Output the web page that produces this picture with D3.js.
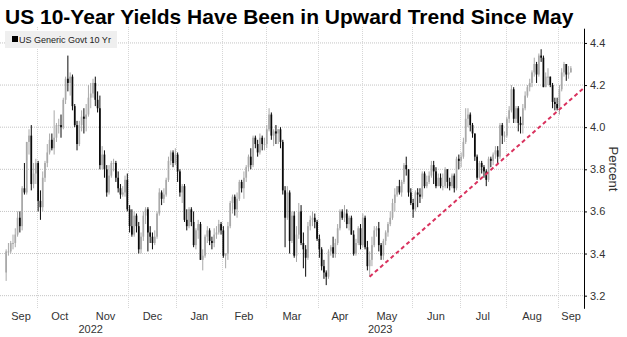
<!DOCTYPE html>
<html>
<head>
<meta charset="utf-8">
<script src="https://cdn.jsdelivr.net/npm/d3@7"></script>
<style>
  body { margin: 0; background: #fff; }
  svg { display: block; font-family: "Liberation Sans", Arial, sans-serif; }
</style>
</head>
<body>
<svg id="chart" width="627" height="337"></svg>
<script>
// daily bars, one row per trading day: [day, open, high, low, close]
const sep2022 = [
  [13, 3.31, 3.42, 3.27, 3.41], [14, 3.41, 3.45, 3.39, 3.41], [15, 3.41, 3.46, 3.40, 3.45],
  [16, 3.45, 3.49, 3.42, 3.45], [19, 3.45, 3.52, 3.43, 3.49], [20, 3.49, 3.60, 3.48, 3.57],
  [21, 3.57, 3.60, 3.50, 3.53], [22, 3.53, 3.72, 3.51, 3.71], [23, 3.71, 3.83, 3.68, 3.69],
  [26, 3.69, 3.93, 3.68, 3.93], [27, 3.93, 3.99, 3.87, 3.96], [28, 3.96, 4.01, 3.70, 3.73],
  [29, 3.73, 3.83, 3.71, 3.78], [30, 3.78, 3.85, 3.73, 3.83]
];
const oct2022 = [
  [3, 3.83, 3.84, 3.60, 3.65], [4, 3.65, 3.70, 3.56, 3.62], [5, 3.62, 3.79, 3.60, 3.76],
  [6, 3.76, 3.84, 3.74, 3.83], [7, 3.83, 3.92, 3.81, 3.88], [11, 3.88, 3.97, 3.87, 3.94],
  [12, 3.94, 3.97, 3.89, 3.90], [13, 3.90, 4.08, 3.87, 3.95], [14, 3.95, 4.02, 3.93, 4.01],
  [17, 4.01, 4.04, 3.97, 4.01], [18, 4.01, 4.06, 3.95, 4.00], [19, 4.00, 4.14, 3.99, 4.13],
  [20, 4.13, 4.24, 4.11, 4.23], [21, 4.23, 4.34, 4.17, 4.21], [24, 4.21, 4.26, 4.15, 4.24],
  [25, 4.24, 4.25, 4.08, 4.10], [26, 4.10, 4.11, 4.00, 4.01], [27, 4.01, 4.03, 3.89, 3.92],
  [28, 3.92, 4.03, 3.91, 4.01], [31, 4.01, 4.08, 3.98, 4.05]
];
const nov2022 = [
  [1, 4.05, 4.09, 3.97, 4.04], [2, 4.04, 4.11, 3.98, 4.06], [3, 4.06, 4.20, 4.05, 4.14],
  [4, 4.14, 4.21, 4.09, 4.16], [7, 4.16, 4.23, 4.14, 4.21], [8, 4.21, 4.24, 4.10, 4.13],
  [9, 4.13, 4.17, 4.07, 4.09], [10, 4.09, 4.15, 3.80, 3.82], [14, 3.82, 3.91, 3.80, 3.87],
  [15, 3.87, 3.89, 3.76, 3.80], [16, 3.80, 3.82, 3.67, 3.69], [17, 3.69, 3.82, 3.68, 3.77],
  [18, 3.77, 3.84, 3.76, 3.83], [21, 3.83, 3.85, 3.79, 3.83], [22, 3.83, 3.84, 3.74, 3.76],
  [23, 3.76, 3.79, 3.69, 3.71], [25, 3.71, 3.73, 3.66, 3.68], [28, 3.68, 3.72, 3.67, 3.69],
  [29, 3.69, 3.77, 3.67, 3.75], [30, 3.75, 3.78, 3.60, 3.61]
];
const dec2022 = [
  [1, 3.61, 3.63, 3.50, 3.53], [2, 3.53, 3.61, 3.48, 3.49], [5, 3.49, 3.60, 3.48, 3.58],
  [6, 3.58, 3.59, 3.50, 3.53], [7, 3.53, 3.55, 3.40, 3.42], [8, 3.42, 3.50, 3.40, 3.48],
  [9, 3.48, 3.60, 3.46, 3.58], [12, 3.58, 3.62, 3.54, 3.61], [13, 3.61, 3.62, 3.41, 3.50],
  [14, 3.50, 3.53, 3.45, 3.48], [15, 3.48, 3.50, 3.42, 3.45], [16, 3.45, 3.51, 3.44, 3.48],
  [19, 3.48, 3.60, 3.47, 3.59], [20, 3.59, 3.71, 3.58, 3.69], [21, 3.69, 3.70, 3.63, 3.66],
  [22, 3.66, 3.71, 3.64, 3.68], [23, 3.68, 3.76, 3.67, 3.75], [27, 3.75, 3.86, 3.74, 3.84],
  [28, 3.84, 3.89, 3.82, 3.88], [29, 3.88, 3.89, 3.81, 3.83], [30, 3.83, 3.90, 3.82, 3.87]
];
const jan2023 = [
  [3, 3.87, 3.88, 3.74, 3.79], [4, 3.79, 3.80, 3.67, 3.69], [5, 3.69, 3.73, 3.64, 3.72],
  [6, 3.72, 3.73, 3.55, 3.56], [9, 3.56, 3.61, 3.51, 3.53], [10, 3.53, 3.62, 3.52, 3.61],
  [11, 3.61, 3.62, 3.53, 3.55], [12, 3.55, 3.60, 3.43, 3.44], [13, 3.44, 3.52, 3.42, 3.51],
  [17, 3.51, 3.56, 3.47, 3.54], [18, 3.54, 3.55, 3.37, 3.37], [19, 3.37, 3.42, 3.32, 3.39],
  [20, 3.39, 3.49, 3.38, 3.48], [23, 3.48, 3.53, 3.45, 3.51], [24, 3.51, 3.52, 3.44, 3.46],
  [25, 3.46, 3.48, 3.42, 3.45], [26, 3.45, 3.52, 3.43, 3.49], [27, 3.49, 3.53, 3.47, 3.50],
  [30, 3.50, 3.56, 3.49, 3.54], [31, 3.54, 3.55, 3.49, 3.51]
];
const feb2023 = [
  [1, 3.51, 3.53, 3.38, 3.39], [2, 3.39, 3.40, 3.33, 3.40], [3, 3.40, 3.55, 3.37, 3.53],
  [6, 3.53, 3.65, 3.52, 3.64], [7, 3.64, 3.68, 3.59, 3.67], [8, 3.67, 3.68, 3.58, 3.61],
  [9, 3.61, 3.69, 3.57, 3.66], [10, 3.66, 3.75, 3.65, 3.74], [13, 3.74, 3.75, 3.69, 3.71],
  [14, 3.71, 3.79, 3.66, 3.76], [15, 3.76, 3.82, 3.74, 3.81], [16, 3.81, 3.87, 3.79, 3.86],
  [17, 3.86, 3.90, 3.80, 3.82], [21, 3.82, 3.96, 3.81, 3.95], [22, 3.95, 3.96, 3.90, 3.92],
  [23, 3.92, 3.94, 3.86, 3.88], [24, 3.88, 3.97, 3.87, 3.95], [27, 3.95, 3.96, 3.89, 3.92],
  [28, 3.92, 3.95, 3.89, 3.92]
];
const mar2023 = [
  [1, 3.92, 4.01, 3.90, 3.99], [2, 3.99, 4.09, 3.98, 4.06], [3, 4.06, 4.07, 3.94, 3.96],
  [6, 3.96, 3.99, 3.91, 3.98], [7, 3.98, 4.01, 3.92, 3.97], [8, 3.97, 3.99, 3.92, 3.99],
  [9, 3.99, 4.00, 3.90, 3.93], [10, 3.93, 3.94, 3.68, 3.70], [13, 3.70, 3.72, 3.43, 3.57],
  [14, 3.57, 3.72, 3.56, 3.69], [15, 3.69, 3.70, 3.40, 3.46], [16, 3.46, 3.60, 3.45, 3.58],
  [17, 3.58, 3.60, 3.38, 3.39], [20, 3.39, 3.53, 3.36, 3.49], [21, 3.49, 3.64, 3.47, 3.60],
  [22, 3.60, 3.63, 3.44, 3.45], [23, 3.45, 3.50, 3.33, 3.42], [24, 3.42, 3.44, 3.29, 3.38],
  [27, 3.38, 3.55, 3.37, 3.53], [28, 3.53, 3.58, 3.51, 3.56], [29, 3.56, 3.60, 3.53, 3.57],
  [30, 3.57, 3.59, 3.52, 3.55], [31, 3.55, 3.56, 3.46, 3.47]
];
const apr2023 = [
  [3, 3.47, 3.49, 3.38, 3.42], [4, 3.42, 3.43, 3.32, 3.34], [5, 3.34, 3.37, 3.28, 3.31],
  [6, 3.31, 3.32, 3.25, 3.29], [10, 3.29, 3.42, 3.28, 3.41], [11, 3.41, 3.44, 3.39, 3.43],
  [12, 3.43, 3.48, 3.38, 3.40], [13, 3.40, 3.47, 3.38, 3.45], [14, 3.45, 3.54, 3.44, 3.52],
  [17, 3.52, 3.61, 3.51, 3.60], [18, 3.60, 3.61, 3.56, 3.57], [19, 3.57, 3.63, 3.55, 3.59],
  [20, 3.59, 3.61, 3.52, 3.54], [21, 3.54, 3.58, 3.51, 3.57], [24, 3.57, 3.58, 3.49, 3.49],
  [25, 3.49, 3.51, 3.39, 3.40], [26, 3.40, 3.47, 3.39, 3.45], [27, 3.45, 3.53, 3.44, 3.52],
  [28, 3.52, 3.54, 3.42, 3.44]
];
const may2023 = [
  [1, 3.44, 3.59, 3.43, 3.57], [2, 3.57, 3.58, 3.42, 3.43], [3, 3.43, 3.46, 3.32, 3.34],
  [4, 3.34, 3.41, 3.29, 3.37], [5, 3.37, 3.48, 3.34, 3.44], [8, 3.44, 3.53, 3.43, 3.51],
  [9, 3.51, 3.53, 3.48, 3.52], [10, 3.52, 3.55, 3.41, 3.44], [11, 3.44, 3.45, 3.37, 3.39],
  [12, 3.39, 3.47, 3.37, 3.46], [15, 3.46, 3.51, 3.44, 3.50], [16, 3.50, 3.55, 3.48, 3.54],
  [17, 3.54, 3.60, 3.53, 3.57], [18, 3.57, 3.66, 3.56, 3.64], [19, 3.64, 3.71, 3.60, 3.68],
  [22, 3.68, 3.72, 3.67, 3.72], [23, 3.72, 3.75, 3.68, 3.69], [24, 3.69, 3.75, 3.67, 3.74],
  [25, 3.74, 3.83, 3.73, 3.82], [26, 3.82, 3.86, 3.77, 3.80], [30, 3.80, 3.80, 3.67, 3.69],
  [31, 3.69, 3.71, 3.63, 3.64]
];
const jun2023 = [
  [1, 3.64, 3.66, 3.57, 3.61], [2, 3.61, 3.70, 3.60, 3.69], [5, 3.69, 3.71, 3.62, 3.68],
  [6, 3.68, 3.71, 3.64, 3.67], [7, 3.67, 3.79, 3.66, 3.78], [8, 3.78, 3.79, 3.71, 3.72],
  [9, 3.72, 3.77, 3.71, 3.74], [12, 3.74, 3.79, 3.73, 3.77], [13, 3.77, 3.84, 3.76, 3.82],
  [14, 3.82, 3.84, 3.73, 3.79], [15, 3.79, 3.81, 3.71, 3.72], [16, 3.72, 3.78, 3.72, 3.76],
  [20, 3.76, 3.78, 3.71, 3.72], [21, 3.72, 3.78, 3.70, 3.72], [22, 3.72, 3.81, 3.71, 3.80],
  [23, 3.80, 3.80, 3.71, 3.74], [26, 3.74, 3.76, 3.70, 3.72], [27, 3.72, 3.78, 3.71, 3.77],
  [28, 3.77, 3.78, 3.69, 3.71], [29, 3.71, 3.86, 3.70, 3.85], [30, 3.85, 3.87, 3.80, 3.84]
];
const jul2023 = [
  [3, 3.84, 3.88, 3.81, 3.86], [5, 3.86, 3.95, 3.85, 3.93], [6, 3.93, 4.09, 3.92, 4.04],
  [7, 4.04, 4.09, 4.00, 4.06], [10, 4.06, 4.07, 3.98, 4.01], [11, 4.01, 4.02, 3.95, 3.97],
  [12, 3.97, 3.97, 3.84, 3.86], [13, 3.86, 3.87, 3.75, 3.76], [14, 3.76, 3.84, 3.76, 3.83],
  [17, 3.83, 3.84, 3.78, 3.81], [18, 3.81, 3.82, 3.76, 3.79], [19, 3.79, 3.80, 3.72, 3.75],
  [20, 3.75, 3.86, 3.74, 3.85], [21, 3.85, 3.86, 3.81, 3.84], [24, 3.84, 3.88, 3.82, 3.87],
  [25, 3.87, 3.91, 3.85, 3.89], [26, 3.89, 3.91, 3.83, 3.86], [27, 3.86, 4.02, 3.85, 4.01],
  [28, 4.01, 4.02, 3.92, 3.96], [31, 3.96, 3.98, 3.93, 3.96]
];
const aug2023 = [
  [1, 3.96, 4.05, 3.95, 4.04], [2, 4.04, 4.10, 4.02, 4.08], [3, 4.08, 4.20, 4.07, 4.18],
  [4, 4.18, 4.19, 4.02, 4.04], [7, 4.04, 4.10, 4.02, 4.09], [8, 4.09, 4.10, 3.98, 4.02],
  [9, 4.02, 4.05, 3.97, 4.01], [10, 4.01, 4.11, 3.97, 4.09], [11, 4.09, 4.17, 4.08, 4.15],
  [14, 4.15, 4.20, 4.14, 4.19], [15, 4.19, 4.23, 4.17, 4.21], [16, 4.21, 4.27, 4.19, 4.26],
  [17, 4.26, 4.33, 4.24, 4.30], [18, 4.30, 4.31, 4.21, 4.25], [21, 4.25, 4.35, 4.24, 4.34],
  [22, 4.34, 4.37, 4.31, 4.33], [23, 4.33, 4.34, 4.19, 4.19], [24, 4.19, 4.26, 4.19, 4.24],
  [25, 4.24, 4.28, 4.20, 4.24], [28, 4.24, 4.24, 4.19, 4.20], [29, 4.20, 4.21, 4.09, 4.12],
  [30, 4.12, 4.14, 4.08, 4.11], [31, 4.11, 4.14, 4.08, 4.09]
];
const sep2023 = [
  [1, 4.09, 4.20, 4.06, 4.18], [5, 4.18, 4.28, 4.17, 4.26], [6, 4.26, 4.31, 4.24, 4.30],
  [7, 4.30, 4.30, 4.22, 4.25], [8, 4.25, 4.29, 4.23, 4.26], [11, 4.26, 4.29, 4.26, 4.28]
];

const months = [
  [2022, 9, sep2022], [2022, 10, oct2022], [2022, 11, nov2022], [2022, 12, dec2022],
  [2023, 1, jan2023], [2023, 2, feb2023], [2023, 3, mar2023], [2023, 4, apr2023],
  [2023, 5, may2023], [2023, 6, jun2023], [2023, 7, jul2023], [2023, 8, aug2023],
  [2023, 9, sep2023]
];
const monthNames = ['Jan', 'Feb', 'Mar', 'Apr', 'May', 'Jun', 'Jul', 'Aug', 'Sep', 'Oct', 'Nov', 'Dec'];
const years = [2022, 2023];
const yTicks = [3.2, 3.4, 3.6, 3.8, 4.0, 4.2, 4.4];
// months that get a vertical gridline at their first trading day
const gridMonths = ['2022-10', '2022-12', '2023-01', '2023-02', '2023-03',
  '2023-04', '2023-05', '2023-06', '2023-07', '2023-08', '2023-09'];
// trend line anchors: [date, yield]
const trendStart = ['2023-05-04', 3.29];
const trendEnd = ['2023-08-30', 4.065];

const pad = n => String(n).padStart(2, '0');
const bars = [];
months.forEach(([yr, mo, rows]) => {
  rows.forEach(r => {
    bars.push({
      key: `${yr}-${pad(mo)}-${pad(r[0])}`, month: `${yr}-${pad(mo)}`, year: yr, mo: mo,
      open: r[1], high: r[2], low: r[3], close: r[4]
    });
  });
});

const svg = d3.select('#chart');
const axisX = 584;

const x = d3.scaleBand()
  .domain(bars.map(d => d.key))
  .range([5, 572]);

const y = d3.scaleLinear()
  .domain([3.14, 4.47])
  .range([308.3, 28.2]);

// title
svg.append('text')
  .attr('x', 5).attr('y', 24)
  .attr('font-size', 21).attr('font-weight', 'bold')
  .attr('fill', '#000')
  .text('US 10-Year Yields Have Been in Upward Trend Since May');

// horizontal gridlines
svg.append('g')
  .selectAll('line')
  .data(yTicks)
  .join('line')
  .attr('x1', 0).attr('x2', axisX)
  .attr('y1', d => y(d)).attr('y2', d => y(d))
  .attr('stroke', '#c4c4c4').attr('stroke-width', 1)
  .attr('stroke-dasharray', '1,1');

// vertical gridlines at month starts
const firstOfMonth = d3.rollup(bars, v => v[0].key, d => d.month);
svg.append('g')
  .selectAll('line')
  .data(gridMonths.filter(m => firstOfMonth.has(m)))
  .join('line')
  .attr('x1', m => Math.round(x(firstOfMonth.get(m))) + 0.5)
  .attr('x2', m => Math.round(x(firstOfMonth.get(m))) + 0.5)
  .attr('y1', 27).attr('y2', 308)
  .attr('stroke', '#d6d6d6').attr('stroke-width', 1)
  .attr('stroke-dasharray', '1,1');

// legend
const legend = svg.append('g');
legend.append('rect')
  .attr('x', 5).attr('y', 31).attr('width', 112).attr('height', 17)
  .attr('fill', '#efefef');
legend.append('rect')
  .attr('x', 12).attr('y', 36).attr('width', 6).attr('height', 6)
  .attr('fill', '#000');
legend.append('text')
  .attr('x', 19).attr('y', 43)
  .attr('font-size', 9).attr('fill', '#222')
  .text('US Generic Govt 10 Yr');

// candles
const bw = x.bandwidth();
const bodyW = bw * 0.75;
const upColor = '#a9a9a9';
const downColor = '#0a0a0a';
const colorOf = d => d.close >= d.open ? upColor : downColor;

const candles = svg.append('g');
candles.selectAll('line')
  .data(bars)
  .join('line')
  .attr('x1', d => x(d.key) + bw / 2)
  .attr('x2', d => x(d.key) + bw / 2)
  .attr('y1', d => y(d.high))
  .attr('y2', d => y(d.low))
  .attr('stroke', colorOf)
  .attr('stroke-width', 1);

candles.selectAll('rect')
  .data(bars)
  .join('rect')
  .attr('x', d => x(d.key) + (bw - bodyW) / 2)
  .attr('width', bodyW)
  .attr('y', d => y(Math.max(d.open, d.close)))
  .attr('height', d => Math.max(1, Math.abs(y(d.open) - y(d.close))))
  .attr('fill', colorOf);

// trend line, extended to the axis
const tx1 = x(trendStart[0]) + bw / 2, ty1 = y(trendStart[1]);
const tx2 = x(trendEnd[0]) + bw / 2, ty2 = y(trendEnd[1]);
const tyEnd = ty1 + (ty2 - ty1) * (axisX - tx1) / (tx2 - tx1);
svg.append('line')
  .attr('x1', tx1).attr('y1', ty1)
  .attr('x2', axisX).attr('y2', tyEnd)
  .attr('stroke', '#d9325e').attr('stroke-width', 2)
  .attr('stroke-dasharray', '4,3');

// right axis
const yAxis = svg.append('g')
  .attr('transform', `translate(${axisX},0)`)
  .call(d3.axisRight(y).tickValues(yTicks).tickFormat(d3.format('.1f'))
    .tickSize(3).tickSizeOuter(0).tickPadding(3));
yAxis.select('.domain').attr('stroke', '#000');
yAxis.selectAll('.tick line').attr('stroke', '#000');
yAxis.selectAll('.tick text')
  .attr('font-size', 11).attr('fill', '#333')
  .attr('font-family', '"Liberation Sans", Arial, sans-serif');

svg.append('text')
  .attr('transform', 'translate(609,169) rotate(90)')
  .attr('text-anchor', 'middle')
  .attr('font-size', 13).attr('fill', '#333')
  .text('Percent');

// month labels, centered on each month's span
const monthSpans = d3.groups(bars, d => d.month).map(([m, v], i, arr) => {
  const x0 = x(v[0].key);
  const x1 = i === arr.length - 1 ? axisX : x(v[v.length - 1].key) + bw;
  return { label: monthNames[v[0].mo - 1], cx: (x0 + x1) / 2 };
});
svg.append('g')
  .selectAll('text')
  .data(monthSpans)
  .join('text')
  .attr('x', d => d.cx).attr('y', 319.5)
  .attr('text-anchor', 'middle')
  .attr('font-size', 11).attr('fill', '#333')
  .text(d => d.label);

// year labels
const yearSpans = years.map((yr, i) => {
  const v = bars.filter(d => d.year === yr);
  const x0 = x(v[0].key);
  const x1 = i === years.length - 1 ? axisX : x(v[v.length - 1].key) + bw;
  return { label: String(yr), cx: (x0 + x1) / 2 };
});
svg.append('g')
  .selectAll('text')
  .data(yearSpans)
  .join('text')
  .attr('x', d => d.cx).attr('y', 333)
  .attr('text-anchor', 'middle')
  .attr('font-size', 11).attr('fill', '#333')
  .text(d => d.label);
</script>
</body>
</html>
